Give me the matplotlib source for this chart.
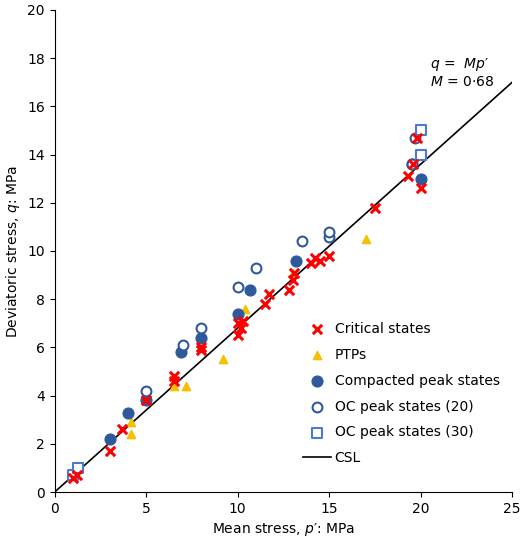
import matplotlib
matplotlib.use('Agg')
import matplotlib.pyplot as plt
import numpy as np

cs_p = [1,1.2,3,3.7,5,6.5,6.5,8,8,10,10,10.2,10.3,11.5,11.7,12.8,13,13.1,14,14.2,14.5,15,17.5,19.3,19.8,20,19.6]
cs_q = [0.6,0.7,1.7,2.6,3.8,4.6,4.8,5.9,6.0,6.5,7.0,6.8,7.1,7.8,8.2,8.4,8.8,9.1,9.5,9.7,9.6,9.8,11.8,13.1,14.7,12.6,13.6]
ptp_p = [4.2,4.2,6.5,7.2,9.2,10.4,13.0,17.0]
ptp_q = [2.4,2.9,4.4,4.4,5.5,7.6,9.1,10.5]
cp_p = [3,4,5,6.9,8,10,10.7,13.2,19.5,20]
cp_q = [2.2,3.3,3.8,5.8,6.4,7.4,8.4,9.6,13.6,13.0]
oc20_p = [5,7,8,10,11,13.5,15,15,19.7,19.5]
oc20_q = [4.2,6.1,6.8,8.5,9.3,10.4,10.6,10.8,14.7,13.6]
oc30_p = [1,1.3,20,20]
oc30_q = [0.7,1.0,14.0,15.0]
M = 0.68

fig, ax = plt.subplots(figsize=(5.2,5.48), dpi=100)
fig.subplots_adjust(left=0.105, right=0.985, bottom=0.102, top=0.982)
blue = '#2E5A9C'
ax.plot([0,25],[0,25*M], color='black', lw=1.2, label='CSL', zorder=1)
ax.scatter(cs_p, cs_q, marker='x', color='#FF0000', s=45, linewidths=2.2, label='Critical states', zorder=3)
ax.scatter(ptp_p, ptp_q, marker='^', color='#F5C000', s=35, label='PTPs', zorder=2)
ax.scatter(cp_p, cp_q, marker='o', color=blue, s=60, label='Compacted peak states', zorder=2)
ax.scatter(oc20_p, oc20_q, marker='o', facecolors='white', edgecolors=blue, s=50, linewidths=1.5, label='OC peak states (20)', zorder=2)
ax.scatter(oc30_p, oc30_q, marker='s', facecolors='white', edgecolors='#4A7BD0', s=45, linewidths=1.5, label='OC peak states (30)', zorder=2)
ax.set_xlim(0,25); ax.set_ylim(0,20)
ax.set_xticks(range(0,26,5)); ax.set_yticks(range(0,21,2))
for s in ['top','right']: ax.spines[s].set_visible(False)
ax.tick_params(labelsize=10)
ax.set_xlabel("Mean stress, $p$′: MPa", fontsize=10)
ax.set_ylabel("Deviatoric stress, $q$: MPa", fontsize=10)
ax.text(20.5,17.4,"$q$ =  $Mp$′\n$M$ = 0·68", fontsize=10, va='center')
h,l = ax.get_legend_handles_labels()
order = [1,2,3,4,5,0]
ax.legend([h[i] for i in order],[l[i] for i in order], loc='lower right', frameon=False, fontsize=10,
          bbox_to_anchor=(1.0,0.03), handletextpad=0.3, labelspacing=0.85)
fig.savefig('out.png')
